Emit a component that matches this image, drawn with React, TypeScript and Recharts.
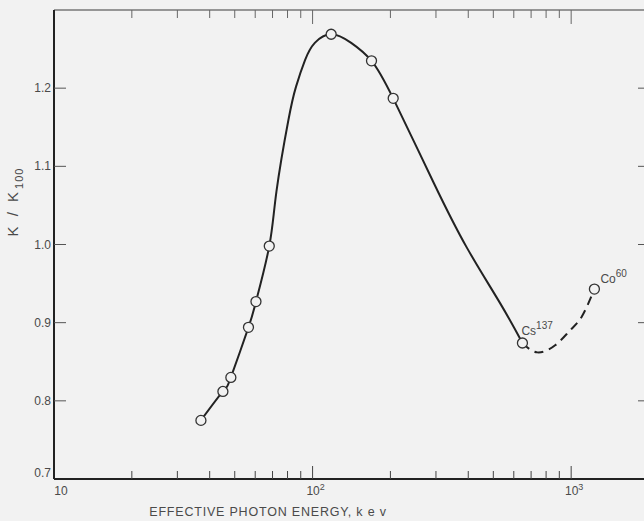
import React from "react";
import { ComposedChart, Line, Scatter, XAxis, YAxis, Label } from "recharts";

// measured points (open circles)
const measuredEnergy = [37, 45, 48.3, 56.5, 60.4, 68, 118, 169, 205, 648, 1230];
const measuredK = [0.775, 0.812, 0.83, 0.894, 0.927, 0.998, 1.269, 1.235, 1.187, 0.874, 0.943];

// solid curve
const solidEnergy = [37, 45, 48.3, 56.5, 60.4, 68, 72.5, 80.6, 86.3, 93.5, 102, 118, 141, 169, 205, 293, 395, 531, 648];
const solidK = [0.775, 0.812, 0.83, 0.894, 0.927, 0.998, 1.068, 1.159, 1.202, 1.236, 1.258, 1.269, 1.258, 1.235, 1.187, 1.08, 0.996, 0.925, 0.874];

// dashed extrapolation Cs137 -> Co60
const dashedEnergy = [648, 739, 867, 990, 1100, 1230];
const dashedK = [0.874, 0.862, 0.871, 0.89, 0.908, 0.943];

const sourceNames = ["Cs", "Co"];
const sourceMass = ["137", "60"];
const sourceEnergy = [648, 1230];
const sourceK = [0.874, 0.943];

const majorEnergyTicks = [10, 100, 1000];
const minorEnergyTicks = [20, 30, 40, 50, 60, 70, 80, 90, 200, 300, 400, 500, 600, 700, 800, 900, 2000];
const kTicks = [0.7, 0.8, 0.9, 1.0, 1.1, 1.2, 1.3];
const kTickLabels = ["0.7", "0.8", "0.9", "1.0", "1.1", "1.2", ""];

const measured = measuredEnergy.map((e, i) => ({ e, k: measuredK[i] }));
const solid = solidEnergy.map((e, i) => ({ e, k: solidK[i] }));
const dashed = dashedEnergy.map((e, i) => ({ e, k: dashedK[i] }));
const sources = sourceEnergy.map((e, i) => ({ e, k: sourceK[i], name: sourceNames[i], mass: sourceMass[i] }));
const energyTicks = [...majorEnergyTicks, ...minorEnergyTicks].sort((a, b) => a - b);

const BG = "#f2f2f2";
const INK = "#222";
const TEXT = "#4a4a4a";
const FONT = "'Liberation Sans', Arial, sans-serif";

const BottomTick = ({ x, y, payload }: any) => {
  const v = payload.value;
  const major = majorEnergyTicks.includes(v);
  const edge = v === 10 || v === 2000;
  const exp = Math.round(Math.log10(v));
  return (
    <g>
      {!edge && <line x1={x} x2={x} y1={y} y2={y - (major ? 13 : 8)} stroke="#444" strokeWidth={1} />}
      {major && (
        <text x={v === 10 ? x + 7 : x + 3} y={y + 16} textAnchor="middle" fontSize={12} fill={TEXT} fontFamily={FONT}>
          10
          {v !== 10 && (
            <tspan dy={-5} fontSize={9}>
              {exp}
            </tspan>
          )}
        </text>
      )}
    </g>
  );
};

const TopTick = ({ x, y, payload }: any) => {
  const v = payload.value;
  if (v === 10 || v === 2000) return <g />;
  const major = majorEnergyTicks.includes(v);
  return <line x1={x} x2={x} y1={y} y2={y + (major ? 14 : 8)} stroke="#666" strokeWidth={1} />;
};

const LeftTick = ({ x, y, payload, index }: any) => {
  const v = payload.value;
  return (
    <g>
      {v !== 0.7 && v !== 1.3 && <line x1={x} x2={x + 12} y1={y} y2={y} stroke="#555" strokeWidth={1} />}
      <text x={x - 3} y={v === 0.7 ? y - 2 : y + 4} textAnchor="end" fontSize={12} fill={TEXT} fontFamily={FONT}>
        {kTickLabels[index]}
      </text>
    </g>
  );
};

const RightTick = ({ x, y, payload }: any) => {
  const v = payload.value;
  if (v === 0.7 || v === 1.3) return <g />;
  return <line x1={x} x2={x - 11} y1={y} y2={y} stroke="#555" strokeWidth={1} />;
};

const Ring = ({ cx, cy }: any) => <circle cx={cx} cy={cy} r={5} fill={BG} stroke="#333" strokeWidth={1.3} />;

const SourceLabel = ({ cx, cy, payload }: any) => {
  const isCs = payload.name === "Cs";
  return (
    <text x={cx + (isCs ? -1 : 6)} y={cy + (isCs ? -8 : -6)} fontSize={12} fill={TEXT} fontFamily={FONT}>
      {payload.name}
      <tspan dy={-6} fontSize={10}>
        {payload.mass}
      </tspan>
    </text>
  );
};

const YTitle = ({ viewBox }: any) => {
  const cx = 18;
  const cy = viewBox.y + 192;
  return (
    <text
      transform={`rotate(-90, ${cx}, ${cy})`}
      x={cx}
      y={cy}
      textAnchor="middle"
      fontSize={15}
      letterSpacing={3}
      fill={TEXT}
      fontFamily={FONT}
    >
      K / K
      <tspan dy={5} fontSize={11} letterSpacing={1}>
        100
      </tspan>
    </text>
  );
};

const XTitle = ({ viewBox }: any) => (
  <text x={viewBox.x + 214} y={viewBox.y + 37} textAnchor="middle" fontSize={12.5} letterSpacing={0.8} fill={TEXT} fontFamily={FONT}>
    EFFECTIVE PHOTON ENERGY, k e v
  </text>
);

export default function App() {
  return (
    <div style={{ position: "fixed", top: 0, left: 0, width: 644, height: 521, overflow: "hidden", background: BG }}>
      <ComposedChart width={660} height={521} margin={{ top: 9, right: 10, bottom: 0, left: 0 }}>
        <XAxis
          dataKey="e"
          type="number"
          scale="log"
          domain={[10, 2000]}
          allowDataOverflow
          ticks={energyTicks}
          interval={0}
          height={42}
          tickSize={0}
          tickMargin={0}
          tick={<BottomTick />}
          axisLine={{ stroke: INK, strokeWidth: 2 }}
        >
          <Label content={<XTitle />} />
        </XAxis>
        <XAxis
          xAxisId="top"
          orientation="top"
          dataKey="e"
          type="number"
          scale="log"
          domain={[10, 2000]}
          allowDataOverflow
          ticks={energyTicks}
          interval={0}
          height={1}
          tickSize={0}
          tickMargin={0}
          tick={<TopTick />}
          axisLine={{ stroke: "#777", strokeWidth: 1.5 }}
        />
        <YAxis
          type="number"
          domain={[0.7, 1.3]}
          allowDataOverflow
          ticks={kTicks}
          interval={0}
          width={54}
          tickSize={0}
          tickMargin={0}
          tick={<LeftTick />}
          axisLine={{ stroke: INK, strokeWidth: 2 }}
        >
          <Label content={<YTitle />} />
        </YAxis>
        <YAxis
          yAxisId="right"
          orientation="right"
          type="number"
          domain={[0.7, 1.3]}
          allowDataOverflow
          ticks={kTicks}
          interval={0}
          width={1}
          tickSize={0}
          tickMargin={0}
          tick={<RightTick />}
          axisLine={{ stroke: "#999", strokeWidth: 1 }}
        />
        <Line
          xAxisId="top"
          yAxisId="right"
          data={measured}
          dataKey="k"
          stroke="none"
          dot={false}
          activeDot={false}
          isAnimationActive={false}
        />
        <Line data={solid} dataKey="k" type="natural" stroke={INK} strokeWidth={2} dot={false} isAnimationActive={false} />
        <Line
          data={dashed}
          dataKey="k"
          type="natural"
          stroke={INK}
          strokeWidth={2}
          strokeDasharray="9 6"
          dot={false}
          isAnimationActive={false}
        />
        <Scatter data={measured} dataKey="k" shape={<Ring />} isAnimationActive={false} />
        <Scatter data={sources} dataKey="k" shape={<SourceLabel />} isAnimationActive={false} />
      </ComposedChart>
    </div>
  );
}
